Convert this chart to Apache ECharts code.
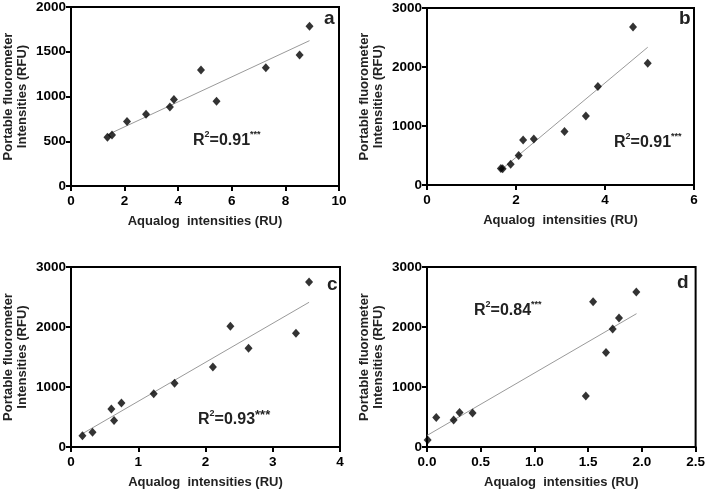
<!DOCTYPE html>
<html>
<head>
<meta charset="utf-8">
<script src="https://cdn.jsdelivr.net/npm/echarts@6/dist/echarts.min.js"></script>
<style>html,body{margin:0;padding:0;background:#fff}#c{width:708px;height:492px}</style>
</head>
<body>
<div id="c"></div>
<script>
// Panel a
const aX = [1.36, 1.53, 2.09, 2.80, 3.69, 3.84, 4.85, 5.43, 7.27, 8.53, 8.90];
const aY = [545, 571, 720, 802, 884, 966, 1295, 948, 1321, 1463, 1784];
const aFit = [[1.36, 572], [8.90, 1624]];
// Panel b
const bX = [1.66, 1.70, 1.88, 2.06, 2.16, 2.40, 3.09, 3.57, 3.84, 4.63, 4.96];
const bY = [280, 276, 352, 501, 761, 778, 908, 1168, 1669, 2679, 2064];
const bFit = [[1.66, 254], [4.96, 2335]];
// Panel c
const cX = [0.17, 0.32, 0.60, 0.64, 0.75, 1.23, 1.54, 2.11, 2.37, 2.64, 3.345, 3.54];
const cY = [188, 244, 633, 443, 733, 888, 1061, 1333, 2011, 1644, 1894, 2750];
const cFit = [[0.17, 222], [3.54, 2412]];
// Panel d
const dX = [0.006, 0.086, 0.248, 0.303, 0.424, 1.478, 1.546, 1.666, 1.728, 1.787, 1.948];
const dY = [117, 493, 450, 577, 567, 850, 2422, 1577, 1967, 2150, 2583];
const dFit = [[0.0, 192], [1.95, 2222]];

const xTicksA = {min: 0, max: 10, interval: 2};
const xTicksB = {min: 0, max: 6, interval: 2};
const xTicksC = {min: 0, max: 4, interval: 1};
const xTicksD = {min: 0, max: 2.5, interval: 0.5};
const yTicksA = {min: 0, max: 2000, interval: 500};
const yTicksB = {min: 0, max: 3000, interval: 1000};

const panelLabels = ['a', 'b', 'c', 'd'];
const r2Values = ['0.91', '0.91', '0.93', '0.84'];

const xTitle = 'Aqualog  intensities (RU)';
const yTitle = 'Portable fluorometer\nIntensities (RFU)';

const FONT = 'Liberation Sans, Arial, sans-serif';
const grids = [
  {left: 69, top: 7, width: 270, height: 179},
  {left: 427, top: 8, width: 267, height: 177},
  {left: 69, top: 267, width: 271, height: 180},
  {left: 427, top: 267, width: 269, height: 180}
];
const xT = [xTicksA, xTicksB, xTicksC, xTicksD];
const yT = [yTicksA, yTicksB, yTicksB, yTicksB];
const xs = [aX, bX, cX, dX], ys = [aY, bY, cY, dY], fits = [aFit, bFit, cFit, dFit];

function axisCommon() {
  return {
    axisLine: {show: true, lineStyle: {color: '#000', width: 2}},
    axisTick: {show: true, inside: false, length: 5, lineStyle: {color: '#000', width: 2}},
    splitLine: {show: false},
    nameTextStyle: {fontFamily: FONT, fontWeight: 'bold', fontSize: 13, color: '#222', lineHeight: 14}
  };
}

const xAxis = xT.map((t, i) => Object.assign(axisCommon(), {
  type: 'value', gridIndex: i, min: t.min, max: t.max, interval: t.interval,
  name: xTitle, nameLocation: 'middle', nameGap: 28,
  axisLabel: {fontFamily: FONT, fontWeight: 'bold', fontSize: 13.5, color: '#000', margin: 8,
    formatter: i === 3 ? (v => v.toFixed(1)) : (v => String(v))}
}));
const yAxis = yT.map((t, i) => Object.assign(axisCommon(), {
  type: 'value', gridIndex: i, min: t.min, max: t.max, interval: t.interval,
  name: yTitle, nameLocation: 'middle', nameGap: 42, nameRotate: 90,
  axisLabel: {fontFamily: FONT, fontWeight: 'bold', fontSize: 13.5, color: '#000', margin: 5,
    formatter: v => String(v)}
}));

const series = [];
for (let i = 0; i < 4; i++) {
  series.push({
    type: 'line', xAxisIndex: i, yAxisIndex: i, data: fits[i], showSymbol: false, symbol: 'none',
    lineStyle: {color: '#9a9a9a', width: 1}, silent: true, z: 1
  });
  series.push({
    type: 'scatter', xAxisIndex: i, yAxisIndex: i, symbol: 'diamond', symbolSize: [8, 9],
    itemStyle: {color: '#000'}, data: xs[i].map((x, k) => [x, ys[i][k]]), z: 3
  });
}

const letterPos = [[329, 20], [684, 20], [332, 286], [682, 284]];
const r2Pos = [[193, 140], [614, 142], [198, 419], [474, 310]];
const rich = {
  b: {fontFamily: FONT, fontWeight: 'bold', fontSize: 16, fill: '#222', lineHeight: 19, verticalAlign: 'bottom'},
  s: {fontFamily: FONT, fontWeight: 'bold', fontSize: 9, fill: '#222', lineHeight: 19, verticalAlign: 'top'},
  m: {fontFamily: FONT, fontWeight: 'bold', fontSize: 13, fill: '#222', lineHeight: 19, verticalAlign: 'top'}
};
const graphic = [];
for (let i = 0; i < 4; i++) {
  graphic.push({type: 'text', left: letterPos[i][0] - 5, top: letterPos[i][1] - 11, z: 10,
    style: {text: panelLabels[i], font: 'bold 19px ' + FONT, fill: '#222'}});
  const starTok = i === 2 ? '{m|***}' : '{s|***}';
  graphic.push({type: 'text', left: r2Pos[i][0], top: r2Pos[i][1] - 10, z: 10,
    style: {text: '{b|R}{s|2}{b|=' + r2Values[i] + '}' + starTok, rich: rich}});
}

const chart = echarts.init(document.getElementById('c'), null, {renderer: 'canvas'});
chart.setOption({
  animation: false,
  backgroundColor: '#fff',
  grid: grids.map(g => Object.assign({show: true, borderColor: '#000', borderWidth: 2, backgroundColor: 'transparent'}, g)),
  xAxis, yAxis, series, graphic
});
</script>
</body>
</html>
